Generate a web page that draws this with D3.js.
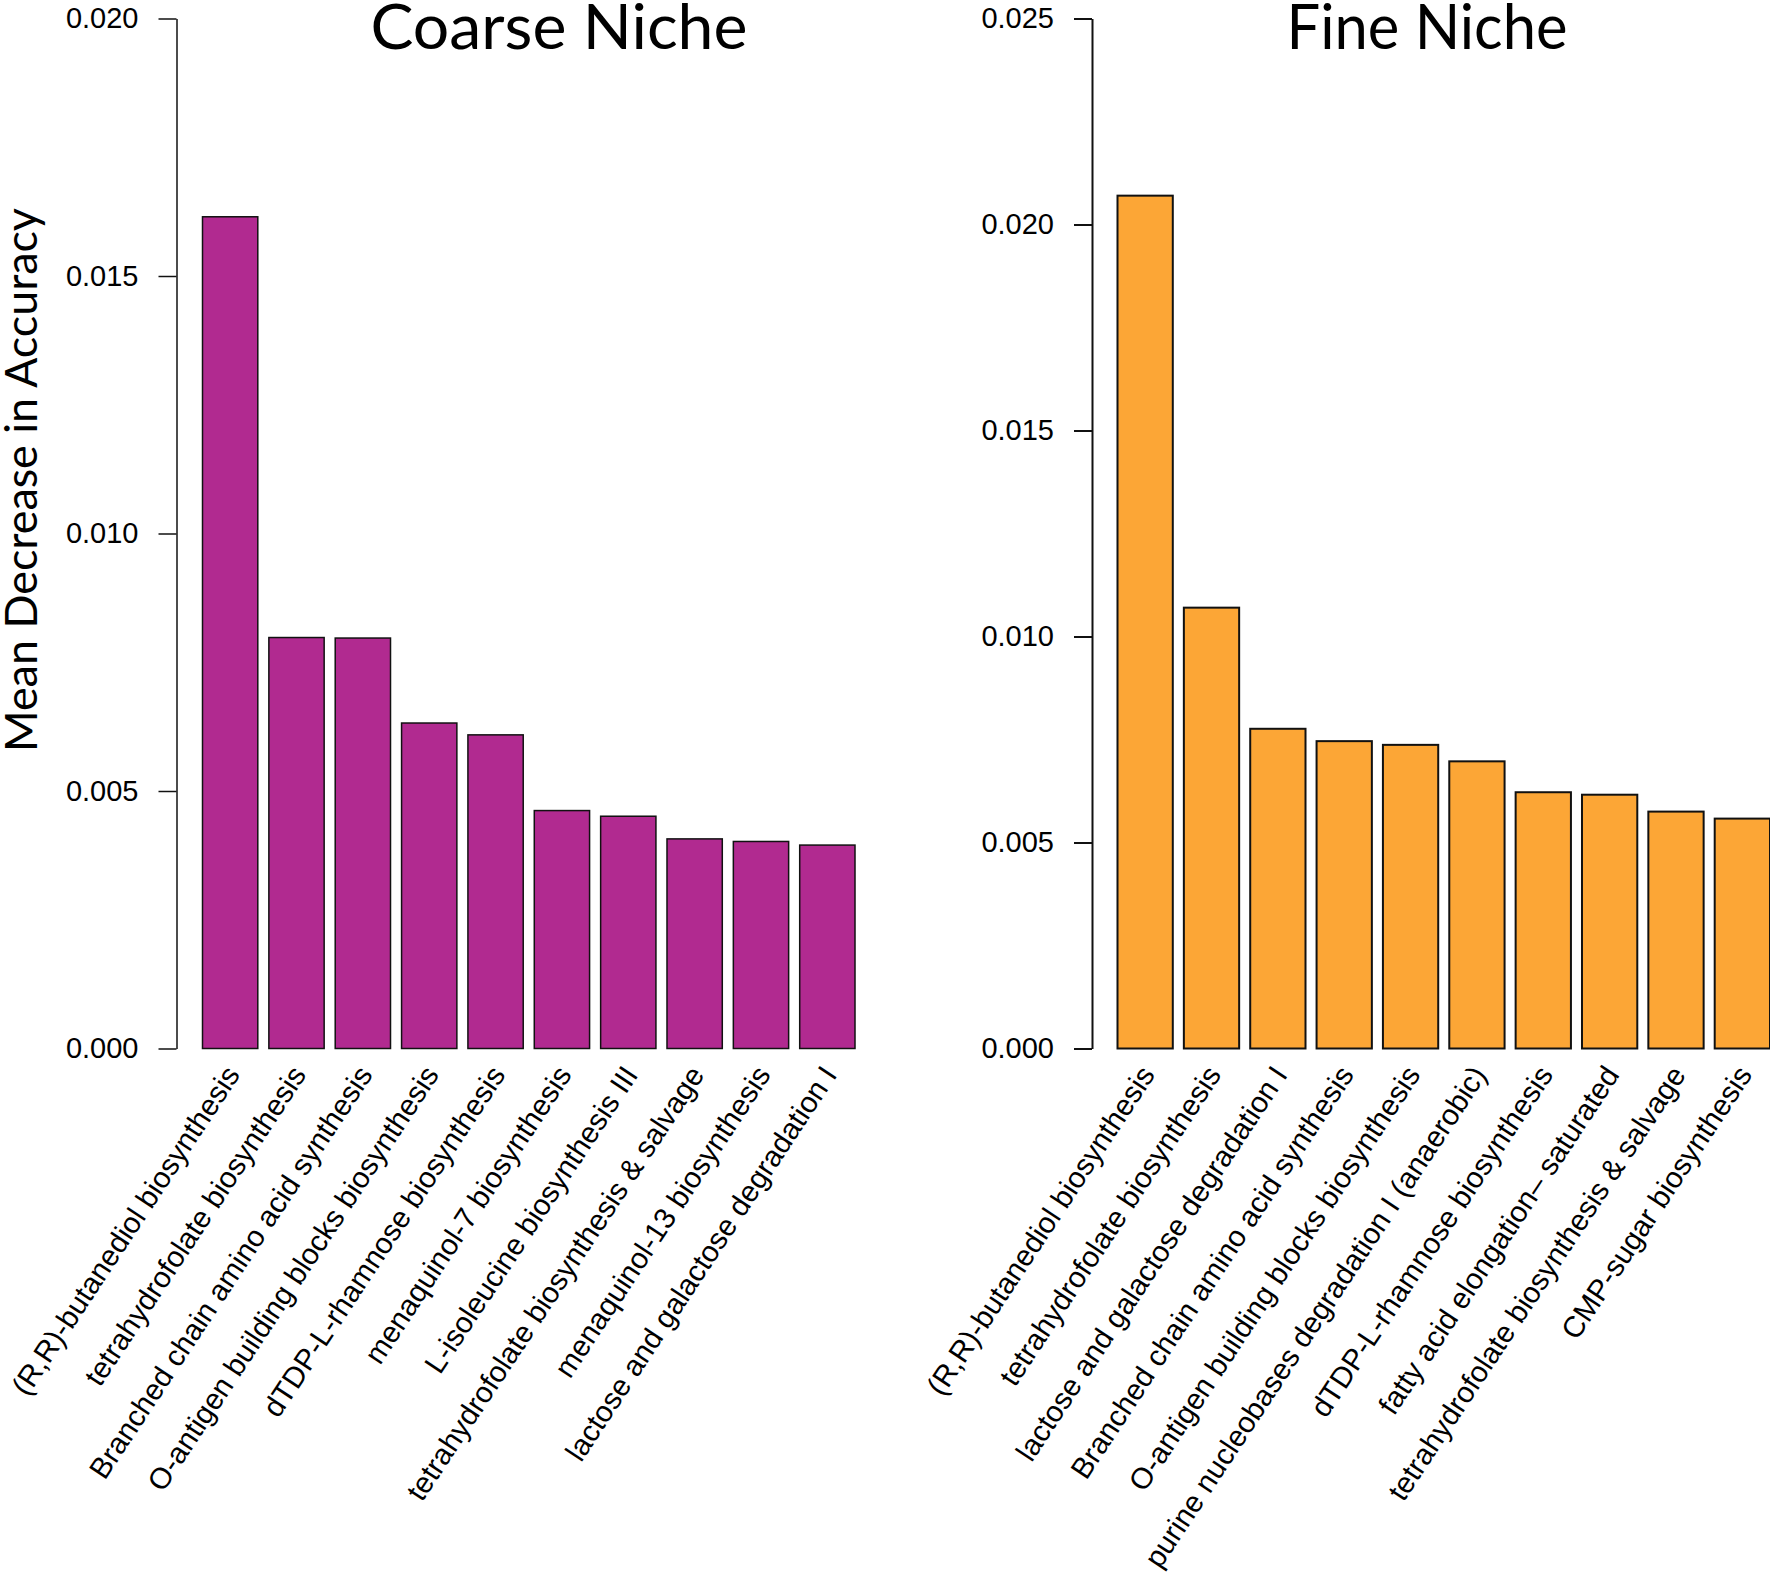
<html>
<head>
<script src="https://d3js.org/d3.v7.min.js"></script>
<style>
  body { margin: 0; background: #fff; }
  .tick text { font-family: "Liberation Sans", Arial, sans-serif; }
  .lab { font-family: "Liberation Sans", Arial, sans-serif; font-size: 29.5px; fill: #000; }
  .ttl { font-family: Lato, "Open Sans", sans-serif; fill: #000; }
</style>
</head>
<body onload="init()">
<svg width="1770" height="1593"></svg>
<script>
// values
const coarseLabels = ["(R,R)-butanediol biosynthesis", "tetrahydrofolate biosynthesis",
  "Branched chain amino acid synthesis", "O-antigen building blocks biosynthesis",
  "dTDP-L-rhamnose biosynthesis", "menaquinol-7 biosynthesis", "L-isoleucine biosynthesis III",
  "tetrahydrofolate biosynthesis & salvage", "menaquinol-13 biosynthesis",
  "lactose and galactose degradation I"];
const coarseValues = [0.01615, 0.00798, 0.00797, 0.00632, 0.00609, 0.00462, 0.00451, 0.00407, 0.00402, 0.00395];
const coarseTicks = [0, 0.005, 0.010, 0.015, 0.020];

const fineLabels = ["(R,R)-butanediol biosynthesis", "tetrahydrofolate biosynthesis",
  "lactose and galactose degradation I", "Branched chain amino acid synthesis",
  "O-antigen building blocks biosynthesis", "purine nucleobases degradation I (anaerobic)",
  "dTDP-L-rhamnose biosynthesis", "fatty acid elongation\u2013 saturated",
  "tetrahydrofolate biosynthesis & salvage", "CMP-sugar biosynthesis"];
const fineValues = [0.0207, 0.0107, 0.00776, 0.00746, 0.00737, 0.00697, 0.00622, 0.00616, 0.00575, 0.00558];
const fineTicks = [0, 0.005, 0.010, 0.015, 0.020, 0.025];

function init() {
  const svg = d3.select('svg');

  function panel(labels, values, ticks, o) {
    const x = d3.scaleBand()
      .domain(d3.range(values.length))
      .range([o.x0, o.x1])
      .paddingInner(0.2 / 1.2)
      .paddingOuter(0);
    const y = d3.scaleLinear()
      .domain([0, d3.max(ticks)])
      .range([1048.5, 18.5]);

    const g = svg.append('g');

    g.selectAll('rect.bar')
      .data(values)
      .enter()
      .append('rect')
      .attr('class', 'bar')
      .attr('x', (d, i) => x(i))
      .attr('y', d => y(d))
      .attr('width', x.bandwidth())
      .attr('height', d => y(0) - y(d))
      .attr('fill', o.fill)
      .attr('stroke', '#111')
      .attr('stroke-width', o.sw);

    const ax = g.append('g')
      .attr('transform', 'translate(' + o.axisX + ',0)')
      .call(d3.axisLeft(y).tickValues(ticks).tickFormat(d3.format('.3f'))
        .tickSize(18).tickSizeOuter(0).tickPadding(20));
    ax.selectAll('path, line').attr('stroke', '#111').attr('stroke-width', o.sw);
    ax.selectAll('text').attr('font-size', 29).attr('fill', '#000');

    // slanted category labels under the bars
    g.selectAll('text.lab')
      .data(labels)
      .enter()
      .append('text')
      .attr('class', 'lab')
      .attr('text-anchor', 'end')
      .attr('dominant-baseline', 'central')
      .attr('transform', (d, i) => 'translate(' + (x(i) + x.bandwidth() / 2 + 2) + ',1069) rotate(-56.5)')
      .text(d => d);

    g.append('text')
      .attr('class', 'ttl')
      .attr('x', o.titleX)
      .attr('y', 49)
      .attr('text-anchor', 'middle')
      .attr('font-size', 62)
      .attr('textLength', o.titleLen)
      .attr('lengthAdjust', 'spacingAndGlyphs')
      .text(o.title);
  }

  panel(coarseLabels, coarseValues, coarseTicks,
    {x0: 202.5, x1: 855, axisX: 176.5, fill: '#B12A90', sw: 1.5,
     title: 'Coarse Niche', titleX: 559, titleLen: 377});
  panel(fineLabels, fineValues, fineTicks,
    {x0: 1117.5, x1: 1770, axisX: 1092, fill: '#FCA636', sw: 2,
     title: 'Fine Niche', titleX: 1427, titleLen: 281});

  svg.append('text')
    .attr('class', 'ttl')
    .attr('transform', 'translate(37,480) rotate(-90)')
    .attr('text-anchor', 'middle')
    .attr('font-size', 45)
    .attr('textLength', 544)
    .attr('lengthAdjust', 'spacingAndGlyphs')
    .text('Mean Decrease in Accuracy');
}
</script>
</body>
</html>
